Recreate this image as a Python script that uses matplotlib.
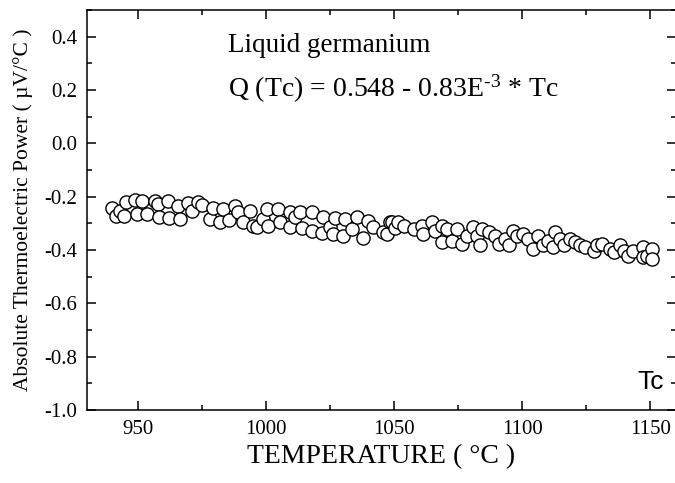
"""Liquid germanium: absolute thermoelectric power vs temperature."""

import matplotlib

matplotlib.use("Agg")
import matplotlib.pyplot as plt
from matplotlib.ticker import MultipleLocator

# values
temperature = [
    939.8, 941.2, 943.0, 944.5, 945.2, 948.8, 949.6, 951.4, 953.3, 956.6,
    957.9, 958.2, 961.5, 962.1, 965.7, 966.3, 969.6, 970.9, 973.5, 974.8,
    978.0, 979.3, 982.0, 983.2, 985.6, 987.8, 989.1, 990.8, 993.7, 995.0,
    996.3, 998.9, 1000.2, 1000.8, 1004.7, 1005.4, 1009.3, 1009.3, 1011.3, 1013.2,
    1013.9, 1017.8, 1017.8, 1021.7, 1022.3, 1024.9, 1026.2, 1026.9, 1029.9, 1030.8,
    1033.4, 1035.3, 1037.9, 1039.9, 1041.8, 1045.7, 1047.1, 1048.4, 1049.0, 1050.3,
    1051.6, 1053.6, 1057.5, 1060.7, 1061.4, 1064.6, 1065.9, 1068.6, 1068.6, 1070.5,
    1072.5, 1074.4, 1076.4, 1078.3, 1080.9, 1082.2, 1083.5, 1084.2, 1086.8, 1089.4,
    1090.7, 1093.3, 1094.6, 1096.5, 1097.8, 1100.4, 1102.4, 1104.3, 1106.3, 1108.2,
    1110.2, 1112.1, 1112.8, 1114.8, 1116.1, 1118.7, 1120.6, 1122.6, 1124.5, 1127.8,
    1129.1, 1131.0, 1134.3, 1135.6, 1138.2, 1139.5, 1141.4, 1143.4, 1147.3, 1147.3,
    1148.6, 1150.6, 1150.6,
]
power = [
    -0.243, -0.274, -0.252, -0.271, -0.221, -0.212, -0.265, -0.215, -0.265, -0.218,
    -0.228, -0.277, -0.215, -0.281, -0.234, -0.284, -0.225, -0.253, -0.221, -0.231,
    -0.284, -0.244, -0.296, -0.246, -0.287, -0.236, -0.256, -0.294, -0.253, -0.309,
    -0.315, -0.284, -0.246, -0.309, -0.246, -0.296, -0.256, -0.315, -0.277, -0.259,
    -0.318, -0.256, -0.327, -0.336, -0.277, -0.315, -0.340, -0.281, -0.348, -0.284,
    -0.321, -0.277, -0.356, -0.290, -0.315, -0.333, -0.340, -0.294, -0.294, -0.318,
    -0.296, -0.309, -0.321, -0.309, -0.340, -0.296, -0.327, -0.309, -0.371, -0.321,
    -0.368, -0.321, -0.377, -0.346, -0.315, -0.346, -0.381, -0.321, -0.333, -0.346,
    -0.377, -0.358, -0.383, -0.327, -0.346, -0.340, -0.358, -0.396, -0.346, -0.383,
    -0.365, -0.389, -0.333, -0.358, -0.383, -0.358, -0.371, -0.383, -0.389, -0.402,
    -0.383, -0.377, -0.396, -0.408, -0.383, -0.402, -0.421, -0.402, -0.389, -0.427,
    -0.421, -0.396, -0.433,
]

x_ticks = [950, 1000, 1050, 1100, 1150]
y_ticks = [-1.0, -0.8, -0.6, -0.4, -0.2, 0.0, 0.2, 0.4]

plt.rcParams["font.family"] = ["Liberation Serif", "DejaVu Serif"]
plt.rcParams["mathtext.fontset"] = "custom"
plt.rcParams["mathtext.rm"] = "Liberation Serif"
plt.rcParams["mathtext.default"] = "regular"
plt.rcParams["axes.unicode_minus"] = False

fig = plt.figure(figsize=(6.75, 4.83), dpi=100)
# right spine sits right at the image edge, as in the reference
ax = fig.add_axes([87 / 675, 73 / 483, 589 / 675, 400 / 483])

ax.plot(temperature, power, ls="none", marker="o", ms=9.5,
        mfc="white", mec="black", mew=1.0)

ax.set_xlim(930, 1160)
ax.set_ylim(-1.0, 0.5)
ax.set_xticks(x_ticks)
ax.set_yticks(y_ticks)
ax.set_yticklabels([f"{v:.1f}" for v in y_ticks])
ax.xaxis.set_minor_locator(MultipleLocator(25))
ax.yaxis.set_minor_locator(MultipleLocator(0.1))
ax.tick_params(which="both", direction="in", top=True, right=True,
               width=1.1, labelsize=15, pad=7)
ax.tick_params(which="major", length=6.5)
ax.tick_params(which="minor", length=3.3)
for s in ax.spines.values():
    s.set_linewidth(1.1)

ax.set_xlabel("TEMPERATURE ( °C )", fontsize=20, labelpad=4)
ax.set_ylabel("Absolute Thermoelectric Power ( µV/°C )", fontsize=15.5, labelpad=8)

ax.text(0.239, 0.9125, "Liquid germanium", transform=ax.transAxes,
        fontsize=19.5, va="center", ha="left")
ax.text(0.239, 0.8025, r"Q (Tc) = 0.548 - 0.83E$^{\text{-3}}$ * Tc",
        transform=ax.transAxes, fontsize=20, va="center", ha="left")
ax.text(0.98, 0.07, "Tc", transform=ax.transAxes, fontsize=19,
        family="Liberation Sans", va="center", ha="right")

fig.savefig("out.png")
